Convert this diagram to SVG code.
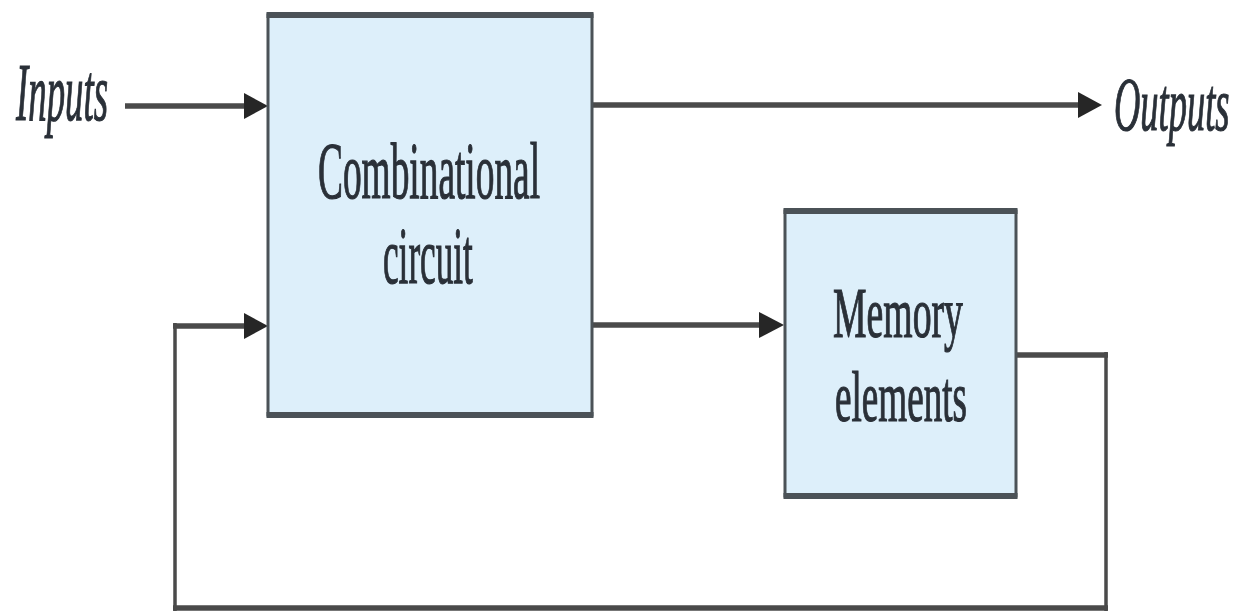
<svg xmlns="http://www.w3.org/2000/svg" width="1240" height="615" viewBox="0 0 1240 615">
  <style>
    .box { fill: #ddeffa; stroke: #4b5257; stroke-width: 3; }
    .edge { stroke: #4b5257; stroke-width: 6; stroke-linecap: butt; }
    .wire-h { fill: none; stroke: #4a4a4a; stroke-width: 5.5; }
    .wire-v { fill: none; stroke: #4a4a4a; stroke-width: 3.5; }
    .label { font-family: "Liberation Serif", "Times New Roman", serif; fill: #2a3038; stroke: #2a3038; stroke-width: 1.2; }
    .io { font-style: italic; }
    .head { fill: #262626; }
  </style>
  <rect width="1240" height="615" fill="#ffffff"/>

  <g id="connectors">
    <!-- Inputs -> combinational circuit -->
    <line class="wire-h" x1="125" y1="106" x2="246" y2="106"/>
    <polygon class="head" points="244,93 268,106 244,119"/>
    <!-- combinational circuit -> Outputs -->
    <line class="wire-h" x1="592" y1="105" x2="1080" y2="105"/>
    <polygon class="head" points="1078,92 1102,105 1078,118"/>
    <!-- combinational circuit -> memory elements -->
    <line class="wire-h" x1="592" y1="325" x2="762" y2="325"/>
    <polygon class="head" points="759,312 784,325 759,338"/>
    <!-- feedback loop: memory elements -> combinational circuit -->
    <line class="wire-h" x1="1016" y1="355" x2="1108" y2="355"/>
    <line class="wire-v" x1="1106" y1="352" x2="1106" y2="611"/>
    <line class="wire-h" x1="1108" y1="608" x2="173" y2="608"/>
    <line class="wire-v" x1="175" y1="611" x2="175" y2="323"/>
    <line class="wire-h" x1="173" y1="326" x2="247" y2="326"/>
    <polygon class="head" points="244,313 268,326 244,339"/>
  </g>

  <!-- labels are set in a condensed serif: glyphs squeezed horizontally -->
  <g id="combinational">
    <rect class="box" x="268" y="15" width="324" height="400"/>
    <line class="edge" x1="266.5" y1="15" x2="593.5" y2="15"/>
    <line class="edge" x1="266.5" y1="415" x2="593.5" y2="415"/>
    <text class="label" transform="translate(318 198) scale(0.467 1)" font-size="80">Combinational</text>
    <text class="label" transform="translate(383 283) scale(0.44 1)" font-size="80">circuit</text>
  </g>

  <g id="memory">
    <rect class="box" x="785" y="211" width="231" height="285"/>
    <line class="edge" x1="783.5" y1="211" x2="1017.5" y2="211"/>
    <line class="edge" x1="783.5" y1="496" x2="1017.5" y2="496"/>
    <text class="label" transform="translate(833 337) scale(0.524 1)" font-size="72">Memory</text>
    <text class="label" transform="translate(835 421) scale(0.516 1)" font-size="72">elements</text>
  </g>

  <g id="inputs">
    <text class="label io" transform="translate(16 120) scale(0.449 1)" font-size="82">Inputs</text>
  </g>

  <g id="outputs">
    <text class="label io" transform="translate(1114 130) scale(0.48 1)" font-size="76">Outputs</text>
  </g>
</svg>
